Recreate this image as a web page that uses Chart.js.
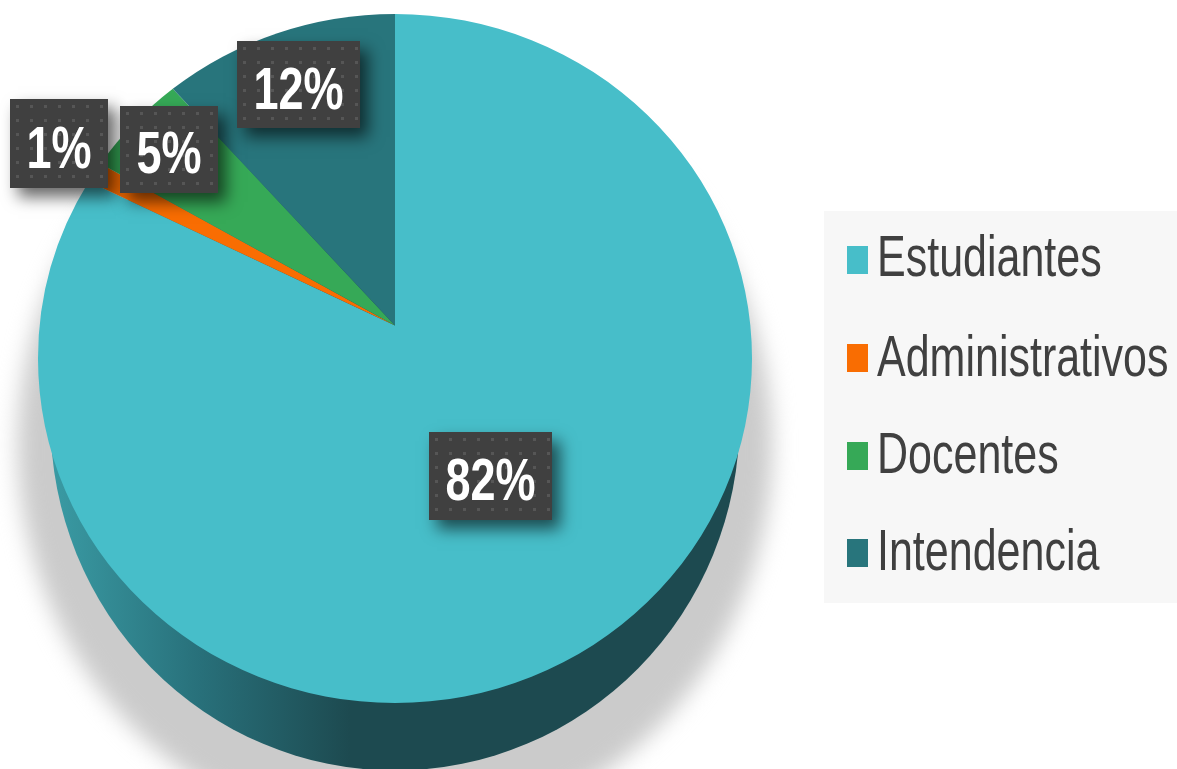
<!DOCTYPE html>
<html>
<head>
<meta charset="utf-8">
<script src="https://cdn.jsdelivr.net/npm/chart.js@4"></script>
<style>
  html, body { margin: 0; padding: 0; background: #fff; overflow: hidden; }
  canvas { display: block; filter: blur(0.6px); }
</style>
</head>
<body>
<canvas id="chart" width="1177" height="769"></canvas>
<script>
const categories = ['Estudiantes', 'Administrativos', 'Docentes', 'Intendencia'];
const shares = [82, 1, 5, 12];
const sliceColors = ['#47bec9', '#f96d02', '#36a957', '#28757c'];

/* Where the dark tags and the legend rows sit in the picture */
const tagBoxes = [
  {x: 429, y: 432, w: 123, h: 88, base: 500},
  {x: 10, y: 99, w: 98, h: 89, base: 168},
  {x: 120, y: 106, w: 98, h: 87, base: 173},
  {x: 237, y: 41, w: 123, h: 87, base: 109}
];
const legendBase = [276, 376, 473, 570];
const legendMid = [260, 358, 456, 553];

/* The picture was stretched upwards, so text is taller than it is wide */
const STRETCH = 1.32;
const TILT_X = 357 / 344.5;   /* the top face is a little wider than tall */
const APEX_UP = 33;           /* the slices meet above the middle of the ellipse */

function rimPoint(ax, ay, cx, cy, rx, ry, angle) {
  /* where a ray from the apex leaves the ellipse */
  const dx = Math.cos(angle), dy = Math.sin(angle);
  const px = (ax - cx) / rx, py = (ay - cy) / ry;
  const qx = dx / rx, qy = dy / ry;
  const a = qx * qx + qy * qy;
  const b = 2 * (px * qx + py * qy);
  const c = px * px + py * py - 1;
  const t = (-b + Math.sqrt(b * b - 4 * a * c)) / (2 * a);
  const x = ax + t * dx, y = ay + t * dy;
  return Math.atan2((y - cy) / ry, (x - cx) / rx);
}

/* Slices keep the angles Chart.js gives them but are drawn on the tilted face */
Chart.ArcElement.prototype.draw = function (ctx) {
  const cx = this.x, cy = this.y;
  const rx = this.outerRadius * TILT_X, ry = this.outerRadius;
  const ax = cx, ay = cy - APEX_UP;
  const t0 = rimPoint(ax, ay, cx, cy, rx, ry, this.startAngle);
  const t1 = rimPoint(ax, ay, cx, cy, rx, ry, this.endAngle);
  ctx.save();
  ctx.beginPath();
  ctx.moveTo(ax, ay);
  ctx.ellipse(cx, cy, rx, ry, 0, t0, t1);
  ctx.closePath();
  ctx.fillStyle = this.options.backgroundColor;
  ctx.fill();
  ctx.restore();
};

const wallPlugin = {
  id: 'wall',
  beforeDatasetsDraw(chart) {
    const ctx = chart.ctx;
    const el = chart.getDatasetMeta(0).data[0];
    const cx = el.x, cy = el.y, r = el.outerRadius;

    /* soft grey shadow under the disc */
    ctx.save();
    ctx.filter = 'blur(11px)';
    ctx.fillStyle = '#cbcbcb';
    ctx.beginPath();
    ctx.ellipse(cx, cy + 87, r * 1.095, r * 1.14, 0, 0, Math.PI * 2);
    ctx.fill();
    ctx.restore();

    /* side wall, lighter on the left */
    const grad = ctx.createLinearGradient(cx - r, 0, cx - 45, 0);
    grad.addColorStop(0, '#3a9ba4');
    grad.addColorStop(0.5, '#28707a');
    grad.addColorStop(1, '#1d4a50');
    ctx.save();
    ctx.fillStyle = grad;
    ctx.beginPath();
    ctx.ellipse(cx, cy + 62, r, r * 1.016, 0, 0, Math.PI * 2);
    ctx.fill();
    ctx.restore();
  }
};

function dotPattern(ctx) {
  const c = document.createElement('canvas');
  c.width = 14; c.height = 14;
  const p = c.getContext('2d');
  p.fillStyle = '#404040';
  p.fillRect(0, 0, 14, 14);
  p.fillStyle = '#565656';
  p.fillRect(6, 6, 3, 3);
  return ctx.createPattern(c, 'repeat');
}

const tagPlugin = {
  id: 'tags',
  afterDatasetsDraw(chart) {
    const ctx = chart.ctx;
    const values = chart.data.datasets[0].data;
    const pattern = dotPattern(ctx);
    values.forEach((v, i) => {
      const b = tagBoxes[i];
      ctx.save();
      ctx.shadowColor = 'rgba(0,0,0,0.6)';
      ctx.shadowBlur = 15;
      ctx.shadowOffsetX = 8;
      ctx.shadowOffsetY = 9;
      ctx.fillStyle = '#404040';
      ctx.fillRect(b.x, b.y, b.w, b.h);
      ctx.restore();

      ctx.save();
      ctx.translate(b.x, b.y);
      ctx.fillStyle = pattern;
      ctx.fillRect(0, 0, b.w, b.h);
      ctx.restore();

      ctx.save();
      ctx.translate(b.x + b.w / 2, b.base);
      ctx.scale(1, STRETCH);
      ctx.font = 'bold 45px "Liberation Sans"';
      ctx.textAlign = 'center';
      ctx.textBaseline = 'alphabetic';
      ctx.fillStyle = '#fff';
      ctx.fillText(v + '%', 0, 0);
      ctx.restore();
    });
  }
};

/* Legend is drawn here because its text has to be stretched like the rest */
const legendPlugin = {
  id: 'sideLegend',
  afterDraw(chart) {
    const ctx = chart.ctx;
    ctx.save();
    ctx.fillStyle = '#f7f7f7';
    ctx.fillRect(824, 211, 353, 392);
    chart.data.labels.forEach((name, i) => {
      ctx.fillStyle = chart.data.datasets[0].backgroundColor[i];
      ctx.fillRect(847, legendMid[i] - 14, 21, 28);
      ctx.save();
      ctx.translate(877, legendBase[i]);
      ctx.scale(1, STRETCH);
      ctx.font = '43px "Liberation Sans"';
      ctx.textBaseline = 'alphabetic';
      ctx.fillStyle = '#404040';
      ctx.fillText(name, 0, 0);
      ctx.restore();
    });
    ctx.restore();
  }
};

new Chart(document.getElementById('chart'), {
  type: 'pie',
  data: {
    labels: categories,
    datasets: [{
      data: shares,
      backgroundColor: sliceColors,
      borderWidth: 0
    }]
  },
  options: {
    responsive: false,
    animation: false,
    layout: {padding: {left: 38, right: 425, top: 14, bottom: 66}},
    plugins: {legend: {display: false}, tooltip: {enabled: false}}
  },
  plugins: [wallPlugin, tagPlugin, legendPlugin]
});
</script>
</body>
</html>
